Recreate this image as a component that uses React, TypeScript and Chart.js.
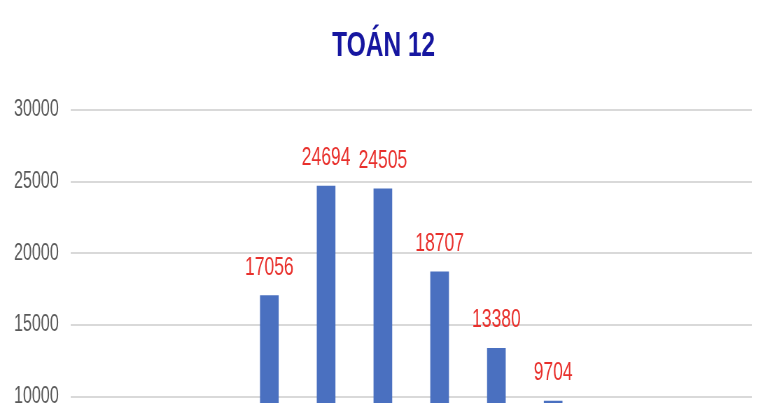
import React, { useEffect, useRef } from 'react';
import { Chart, registerables, Plugin } from 'chart.js';

Chart.register(...registerables);

// score bands (bars below 10000 are cut off in the reference)
const categories = ['1', '2', '3', '4', '5', '6', '7', '8', '9', '10', '11', '12'];
const studentCounts = [300, 1500, 5200, 17056, 24694, 24505, 18707, 13380, 9704, 4300, 1100, 150];
const yTicks = [0, 5000, 10000, 15000, 20000, 25000, 30000];
const chartTitle = 'TOÁN 12';

const FONT = '"Liberation Sans", Arial, sans-serif';

// value labels above bars + title centred on the whole canvas
const decorations: Plugin<'bar'> = {
  id: 'decorations',
  afterDatasetsDraw(chart) {
    const { ctx } = chart;
    const meta = chart.getDatasetMeta(0);
    ctx.save();
    ctx.font = `25px ${FONT}`;
    ctx.fillStyle = '#e8302c';
    ctx.textAlign = 'center';
    ctx.textBaseline = 'alphabetic';
    meta.data.forEach((bar, i) => {
      ctx.fillText(String(studentCounts[i]), bar.x, bar.y - 21);
    });

    ctx.font = `bold 35px ${FONT}`;
    ctx.fillStyle = '#1616a0';
    ctx.textBaseline = 'middle';
    ctx.fillText(chartTitle, chart.width / 2 - 2, 46.5);
    ctx.restore();
  },
};

const App: React.FC = () => {
  const canvasRef = useRef<HTMLCanvasElement | null>(null);
  const chartRef = useRef<Chart | null>(null);

  useEffect(() => {
    if (!canvasRef.current) return;
    chartRef.current = new Chart(canvasRef.current, {
      type: 'bar',
      data: {
        labels: categories,
        datasets: [{
          data: studentCounts,
          backgroundColor: '#4a70c0',
          barThickness: 26,
        }],
      },
      options: {
        animation: false,
        responsive: false,
        layout: { padding: { left: 3, right: 26, top: 110, bottom: 17 } },
        plugins: {
          legend: { display: false },
          tooltip: { enabled: false },
          title: { display: false },
        },
        scales: {
          x: {
            grid: { display: false },
            border: { display: false },
            ticks: { color: '#595959', font: { family: FONT, size: 24 } },
          },
          y: {
            min: 0,
            max: 30000,
            afterBuildTicks: (axis) => {
              axis.ticks = yTicks.map(v => ({ value: v }));
            },
            grid: { color: '#d9d9d9', lineWidth: 2, drawTicks: false },
            border: { display: false },
            ticks: {
              color: '#595959',
              padding: 17,
              font: { family: FONT, size: 23 },
              callback: (v) => String(v),
            },
          },
        },
      },
      plugins: [decorations],
    });
    return () => {
      chartRef.current?.destroy();
      chartRef.current = null;
    };
  }, []);

  return (
    <div style={{ position: 'fixed', top: 0, left: 0, width: 770, height: 403, overflow: 'hidden', background: '#fff' }}>
      <div style={{ width: 1100, height: 600, transform: 'scaleX(0.7)', transformOrigin: 'top left' }}>
        <canvas ref={canvasRef} width={1100} height={600} />
      </div>
    </div>
  );
};

export default App;
